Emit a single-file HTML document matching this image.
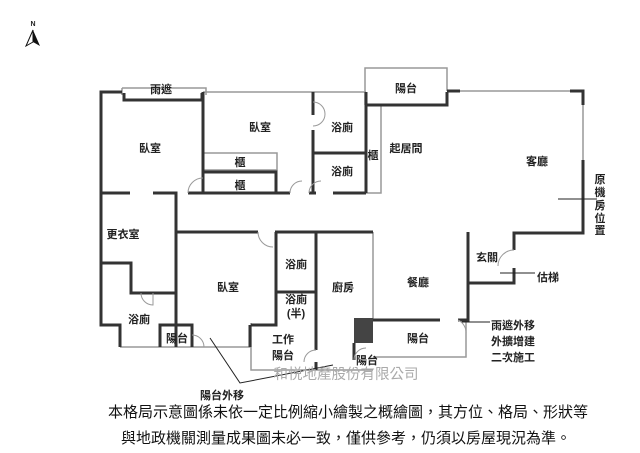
<!DOCTYPE html>
<html><head><meta charset="utf-8"><style>
html,body{margin:0;padding:0;background:#fff;width:640px;height:453px;overflow:hidden}
svg{display:block}
text{font-family:"Liberation Sans","Noto Sans CJK TC",sans-serif;font-weight:bold;fill:#222;font-size:11px}
.t{text-anchor:middle}
</style></head><body>
<svg width="640" height="453" viewBox="0 0 640 453">
<g fill="none" stroke="#999" stroke-width="1.5">
<path d="M122 88 H206 V95 M122 88 V95"/>
<path d="M203 92 H313 M313 92 H366"/>
<path d="M365 105 V68 H447 V91"/>
<path d="M447 91 H583 V233"/>
<path d="M373 232 V320"/>
<path d="M373 357 H466 V320"/>
<path d="M251 323 V370 H373"/>
<path d="M120 347 H251"/>
<path d="M204 153 H277 V170 H204 M204 172 H276"/>
<path d="M366 105 V193 H381 V105"/>
</g>
<g fill="none" stroke="#333" stroke-width="3">
<path d="M122 92 H101 V325 H120 V347"/>
<path d="M124 93 V100 H202 V93"/>
<path d="M203 92 V193 H188"/>
<path d="M204 172 H276 V193 H204"/>
<path d="M101 193 H130 M153 193 H176 V325"/>
<path d="M101 263 H131 V293 H176"/>
<path d="M176 325 V347 M176 325 H160 V347 M160 325 H192 V335"/>
<path d="M276 193 H290 M309 193 H316 M333 193 H366"/>
<path d="M313 92 V115 M313 130 V193"/>
<path d="M313 153 H366"/>
<path d="M366 92 V193"/>
<path d="M366 105 H447 V92 M447 91 H460 M570 91 H583 V105 M583 160 V233 H514 V250 M514 268 V283 H468 V232 M468 233 V320 H458"/>
<path d="M176 232 H258 M275 232 H318"/>
<path d="M276 232 V325 H251 M316 232 V350 M316 362 V370"/>
<path d="M276 292 H316"/>
<path d="M316 232 H373"/>
<path d="M373 320 H440 M250 347 V325"/>
<path d="M192 347 V325"/>
</g>
<rect x="354" y="318" width="19" height="25" fill="#444"/>
<path d="M354 343 V360" stroke="#333" stroke-width="3"/>
<g fill="none" stroke="#999" stroke-width="1">
<path d="M188 193 A15 15 0 0 1 203 178"/>
<path d="M290 193 A12 12 0 0 1 302 181 M309 193 A12 12 0 0 1 321 181"/>
<path d="M313 102 A12 12 0 0 1 313 126"/>
<path d="M258 232 A15 15 0 0 0 273 247"/>
<path d="M153 293 V305 A12 12 0 0 1 141 293"/>
<path d="M192 335 A12 12 0 0 1 204 347"/>
<path d="M514 250 A16 16 0 0 0 498 266"/>
<path d="M458 320 A14 14 0 0 1 466 334"/>
<path d="M316 350 A12 12 0 0 0 304 362"/>
<path d="M354 360 A12 12 0 0 1 366 348"/>
</g>
<g stroke="#222" stroke-width="1" fill="none">
<path d="M210 338 L240 383 L333 365"/>
<path d="M558 199 H597"/>
<path d="M500 273 H535"/>
<path d="M462 322 H490"/>
</g>
<path d="M33 30 L26 46 L33 42 Z" fill="#fff" stroke="#111" stroke-width="1"/>
<path d="M33 30 L40 46 L33 42 Z" fill="#111"/>
<text x="33" y="26" class="t" style="font-size:7px">N</text>
<text x="161" y="93" class="t">雨遮</text>
<text x="150" y="152" class="t">臥室</text>
<text x="260" y="131" class="t">臥室</text>
<text x="240" y="166" class="t">櫃</text>
<text x="240" y="189" class="t">櫃</text>
<text x="342" y="131" class="t">浴廁</text>
<text x="342" y="175" class="t">浴廁</text>
<text x="373" y="159" class="t">櫃</text>
<text x="406" y="92" class="t">陽台</text>
<text x="406" y="152" class="t">起居間</text>
<text x="537" y="165" class="t">客廳</text>
<text x="600" y="183" class="t">原</text><text x="600" y="196" class="t">機</text><text x="600" y="209" class="t">房</text><text x="600" y="222" class="t">位</text><text x="600" y="234" class="t">置</text>
<text x="123" y="238" class="t">更衣室</text>
<text x="228" y="291" class="t">臥室</text>
<text x="296" y="268" class="t">浴廁</text>
<text x="296" y="303" class="t">浴廁</text>
<text x="296" y="317" class="t">(半)</text>
<text x="343" y="291" class="t">廚房</text>
<text x="418" y="286" class="t">餐廳</text>
<text x="487" y="261" class="t">玄關</text>
<text x="548" y="281" class="t">估梯</text>
<text x="139" y="323" class="t">浴廁</text>
<text x="177" y="342" class="t">陽台</text>
<text x="283" y="343" class="t">工作</text>
<text x="283" y="359" class="t">陽台</text>
<text x="418" y="342" class="t">陽台</text>
<text x="367" y="364" class="t">陽台</text>
<text x="513" y="329" class="t">雨遮外移</text>
<text x="513" y="345" class="t">外擴增建</text>
<text x="513" y="361" class="t">二次施工</text>
<text x="222" y="399" class="t">陽台外移</text>
<text x="346" y="379" class="t" style="font-size:14.5px;font-weight:normal;fill:#aaa">和悦地產股份有限公司</text>
<text x="348" y="417" class="t" style="font-size:15px;font-weight:normal;fill:#111">本格局示意圖係未依一定比例縮小繪製之概繪圖，其方位、格局、形狀等</text>
<text x="346" y="443" class="t" style="font-size:15px;font-weight:normal;fill:#111">與地政機關測量成果圖未必一致，僅供參考，仍須以房屋現況為準。</text>
</svg>
</body></html>
